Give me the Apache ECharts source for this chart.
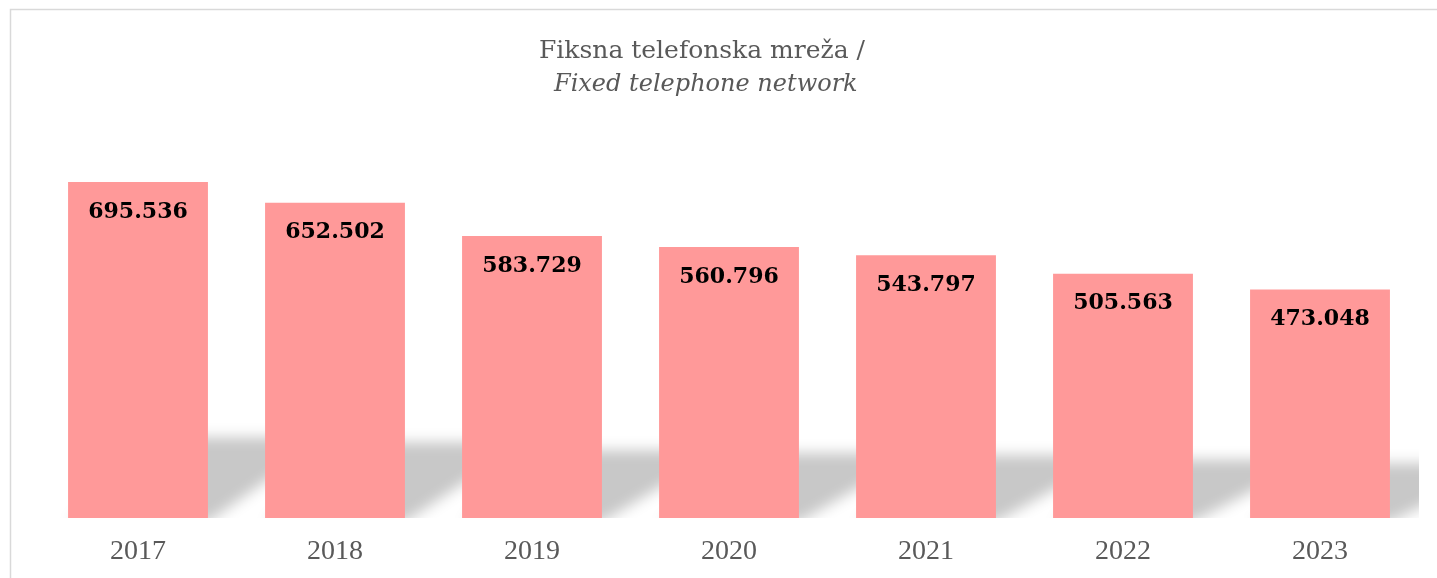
<!DOCTYPE html>
<html>
<head>
<meta charset="utf-8">
<script src="https://cdn.jsdelivr.net/npm/echarts@6/dist/echarts.min.js"></script>
<style>
  html, body { margin: 0; padding: 0; background: #fff; }
  #chart { width: 1437px; height: 578px; }
</style>
</head>
<body>
<div id="chart"></div>
<script>
const years = ['2017', '2018', '2019', '2020', '2021', '2022', '2023']
const subscribers = [695536, 652502, 583729, 560796, 543797, 505563, 473048]

const chart = echarts.init(document.getElementById('chart'))

// perspective shadow behind each bar, blurred by drawing it off screen and shifting the shadow back
const OFF = 3000
function renderShadow(params, api) {
  const base = api.coord([api.value(0), 0])
  const top = api.coord([api.value(0), api.value(1)])
  const w = api.size([1, 0])[0] * 0.71
  const h = (base[1] - top[1]) * 0.24
  const x0 = base[0] - w / 2 - OFF
  const x1 = base[0] + w / 2 - OFF
  const y0 = base[1] + 4
  const skew = 120
  return {
    type: 'polygon',
    shape: { points: [[x0, y0], [x1, y0], [x1 + skew, y0 - h - 4], [x0 + skew, y0 - h - 4]] },
    style: { fill: '#000', shadowBlur: 14, shadowColor: '#c8c8c8', shadowOffsetX: OFF },
  }
}

chart.setOption({
  backgroundColor: '#fff',
  animation: false,
  graphic: [
    {
      type: 'rect',
      shape: { x: 10.5, y: 9.5, width: 1600, height: 1000 },
      style: { fill: 'none', stroke: '#d9d9d9', lineWidth: 1.5 },
      z: 0,
    },
  ],
  title: {
    left: 697,
    top: 30,
    textAlign: 'center',
    text: '{a|Fiksna telefonska mreža /}\n{b| Fixed telephone network}',
    textStyle: {
      fontWeight: 'normal',
      rich: {
        a: { fontFamily: 'DejaVu Serif', fontWeight: 'normal', fontSize: 25, color: '#595959', lineHeight: 33 },
        b: { fontFamily: 'DejaVu Serif', fontWeight: 'normal', fontStyle: 'italic', fontSize: 24, color: '#595959', lineHeight: 33 },
      },
    },
  },
  grid: { left: 39.5, right: 18.5, top: 131.5, bottom: 60, containLabel: false },
  xAxis: {
    type: 'category',
    data: years,
    axisLine: { show: false },
    axisTick: { show: false },
    axisLabel: { color: '#595959', fontFamily: 'Liberation Serif', fontSize: 28, margin: 20 },
  },
  yAxis: {
    type: 'value',
    min: 0,
    max: 800000,
    show: false,
    splitLine: { show: false },
  },
  series: [
    {
      type: 'custom',
      clip: true,
      z: 1,
      silent: true,
      renderItem: renderShadow,
      data: subscribers.map((v, i) => [i, v]),
    },
    {
      type: 'bar',
      z: 2,
      barWidth: '71%',
      data: subscribers,
      itemStyle: { color: '#ff9999' },
      label: {
        show: true,
        position: ['50%', 30],
        align: 'center',
        verticalAlign: 'middle',
        fontFamily: 'DejaVu Serif',
        fontWeight: 'bold',
        fontSize: 22,
        color: '#000',
        formatter: (p) => (p.value / 1000).toFixed(3),
      },
    },
  ],
})

window.addEventListener('resize', () => chart.resize())
</script>
</body>
</html>
